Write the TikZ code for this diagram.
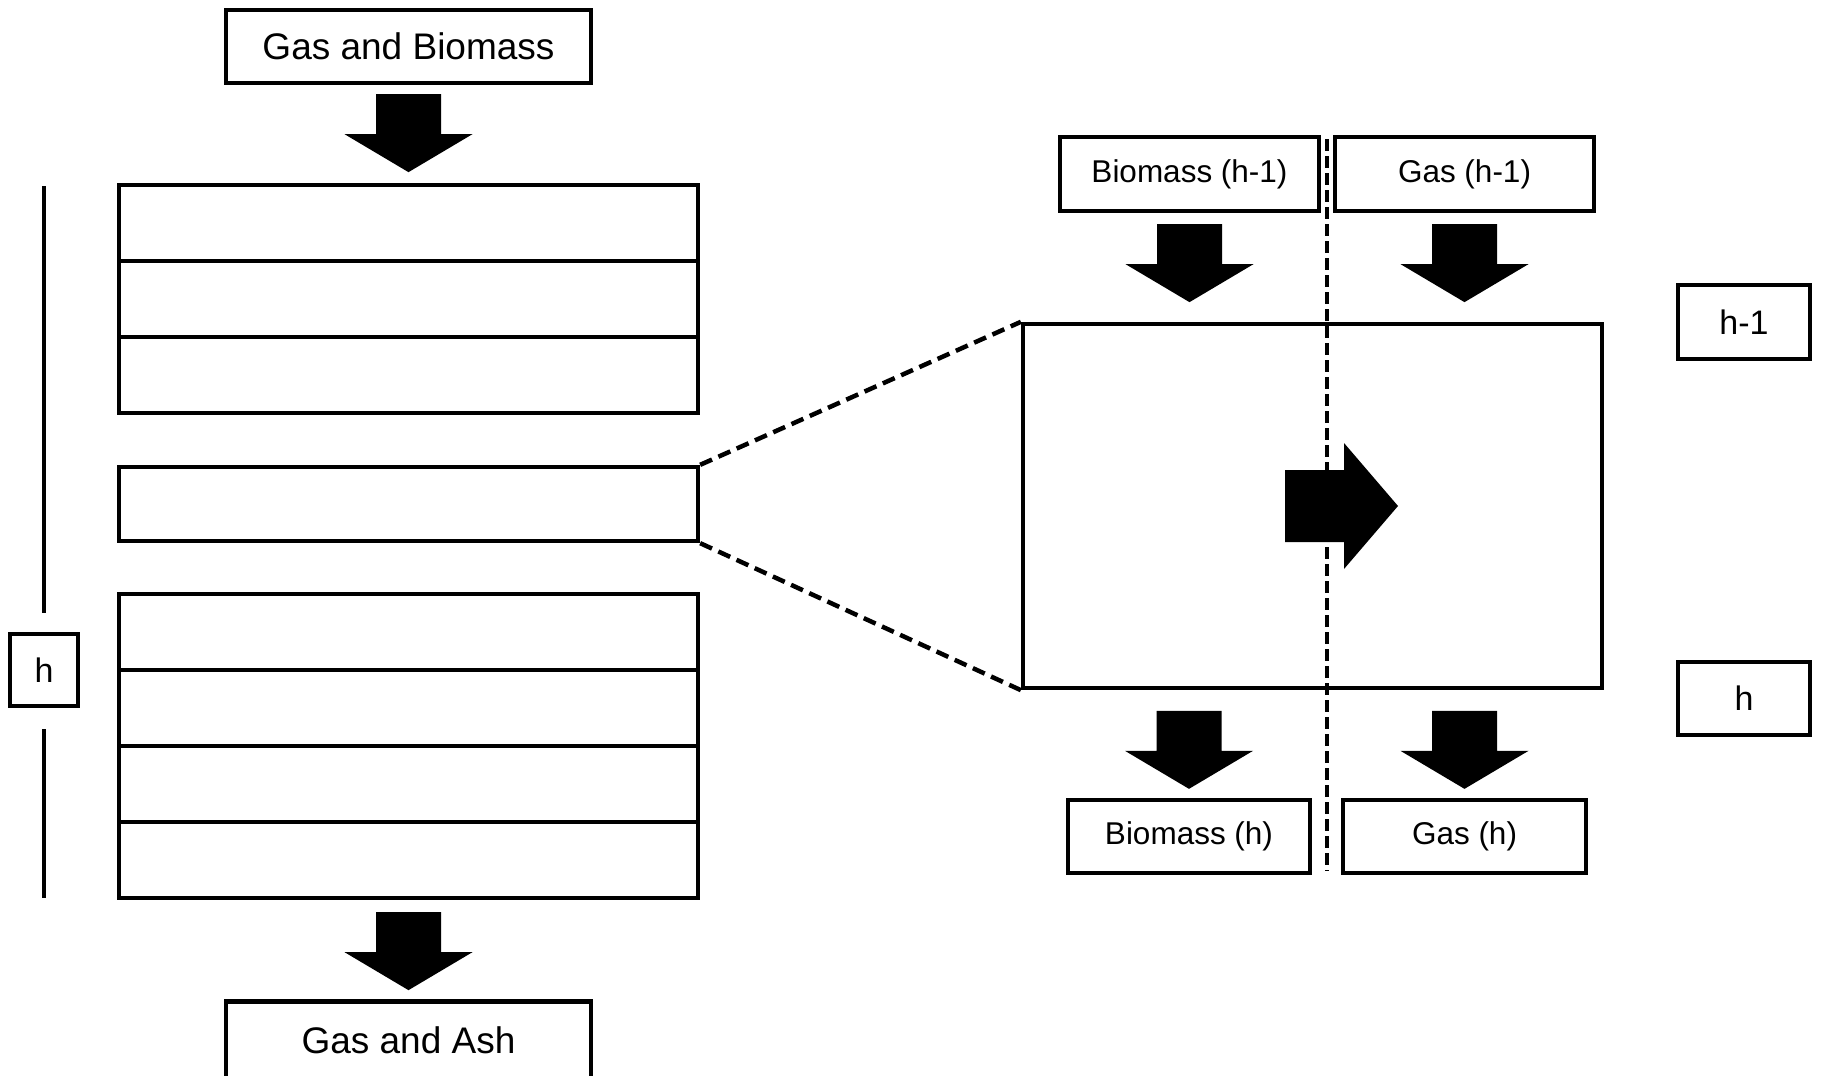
\documentclass[tikz,border=0pt]{standalone}
\usepackage{fontspec}
\setmainfont{Liberation Sans}
\usetikzlibrary{calc}
\tikzset{
  box/.style={draw, line width=4.3pt, inner sep=0pt, fill=white},
  bigtxt/.style={font=\fontsize{37}{44}\selectfont},
  midtxt/.style={font=\fontsize{31.5}{38}\selectfont},
  lvl/.style={font=\fontsize{34}{40}\selectfont},
  layer/.style={draw, line width=4.3pt, inner sep=0pt, minimum width=579pt, minimum height=76pt},
  zoomline/.style={line width=4.5pt, dash pattern=on 13pt off 7pt},
  sepline/.style={line width=3.5pt, dash pattern=on 12pt off 5pt},
  pics/blockdown/.style={code={
    \fill (-32.5,0) -- (32.5,0) -- (32.5,40) -- (64,40) -- (0,78) -- (-64,40) -- (-32.5,40) -- cycle;
  }},
}
\begin{document}
\begin{tikzpicture}[x=1pt,y=-1pt]
\useasboundingbox (0,0) rectangle (1821,1076);
\begin{scope}
\clip (0,0) rectangle (1821,1076);
% left column
\node[box, bigtxt, minimum width=365pt, minimum height=73pt] (gb) at (408.5,46.5) {Gas and Biomass};
\node[layer] (t1) at (408.5,223) {};
\node[layer] (t2) at (408.5,299) {};
\node[layer] (t3) at (408.5,375) {};
\node[layer, minimum height=74pt] (mid) at (408.5,504) {};
\node[layer] (b1) at (408.5,632) {};
\node[layer] (b2) at (408.5,708) {};
\node[layer] (b3) at (408.5,784) {};
\node[layer] (b4) at (408.5,860) {};
\node[box, bigtxt, minimum width=365pt, minimum height=77pt] (ga) at (408.5,1040) {Gas and Ash};
\pic at ($(gb.south)+(0,9)$) {blockdown};
\pic at ($(b4.south)+(0,12)$) {blockdown};
% height marker
\node[box, lvl, minimum width=68pt, minimum height=72pt] (hl) at (44,670) {h};
\draw[line width=4pt] (44,186) -- ($(hl.north)+(0,-19)$);
\draw[line width=4pt] ($(hl.south)+(0,21)$) -- (44,898);
% right detail
\node[box, minimum width=579pt, minimum height=364pt] (big) at (1312.5,506) {};
\node[box, midtxt, minimum width=259pt, minimum height=74pt] (bh1) at (1189.5,174) {Biomass (h-1)};
\node[box, midtxt, minimum width=259pt, minimum height=74pt] (gh1) at (1464.5,174) {Gas (h-1)};
\node[box, midtxt, minimum width=242pt, minimum height=73pt] (bh) at (1189,836.5) {Biomass (h)};
\node[box, midtxt, minimum width=243pt, minimum height=73pt] (gh) at (1464.5,836.5) {Gas (h)};
\node[box, lvl, minimum width=132pt, minimum height=74pt] (lh1) at (1744,322) {h-1};
\node[box, lvl, minimum width=132pt, minimum height=73pt] (lh) at (1744,698.5) {h};
\pic at ($(bh1.south)+(0,11)$) {blockdown};
\pic at ($(gh1.south)+(0,11)$) {blockdown};
\pic at ($(bh.north)+(0,-87)$) {blockdown};
\pic at ($(gh.north)+(0,-87)$) {blockdown};
% transfer arrow
\fill ($(big.center)+(-27.5,-36)$) coordinate (ra) -- ++(59,0) -- ++(0,-27) -- ++(54,63) -- ++(-54,63) -- ++(0,-27) -- ++(-59,0) -- cycle;
% separator
\coordinate (sepT) at (1327,139);
\coordinate (sepB) at (1327,871);
\draw[sepline] (sepT) -- (sepB);
% zoom lines
\draw[zoomline] (mid.north east) -- (big.north west);
\draw[zoomline] (mid.south east) -- (big.south west);
\end{scope}
\end{tikzpicture}
\end{document}
